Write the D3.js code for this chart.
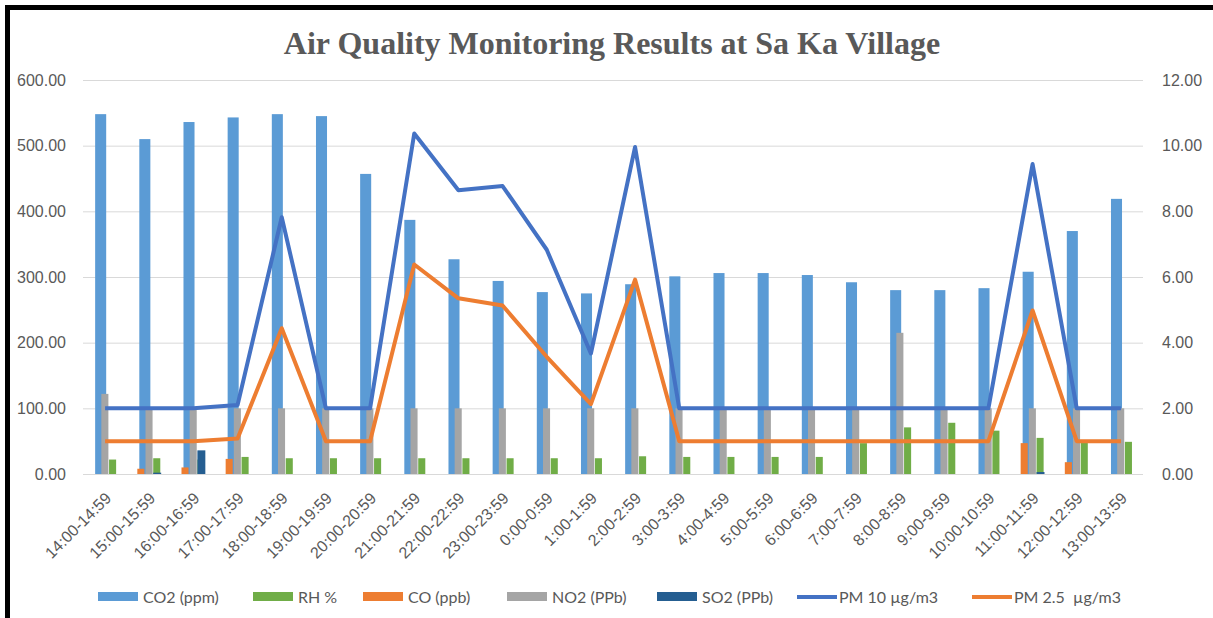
<!DOCTYPE html>
<html>
<head>
<meta charset="utf-8">
<script src="https://cdn.jsdelivr.net/npm/d3@7"></script>
<style>
  body { margin: 0; background: #fff; }
  svg { display: block; font-family: Lato, "Open Sans", sans-serif; }
</style>
</head>
<body>
<div class="chart"></div>
<script>
var width = 1213;
var height = 618;

// hourly slots
var categories = ["14:00-14:59", "15:00-15:59", "16:00-16:59", "17:00-17:59", "18:00-18:59",
	"19:00-19:59", "20:00-20:59", "21:00-21:59", "22:00-22:59", "23:00-23:59", "0:00-0:59",
	"1:00-1:59", "2:00-2:59", "3:00-3:59", "4:00-4:59", "5:00-5:59", "6:00-6:59", "7:00-7:59",
	"8:00-8:59", "9:00-9:59", "10:00-10:59", "11:00-11:59", "12:00-12:59", "13:00-13:59"];

// bar series (left axis)
var co2 = [548, 510, 536, 543, 548, 545, 457, 387, 327, 294, 277, 275, 289, 301, 306, 306, 303, 292, 280, 280, 283, 308, 370, 419];
var rh = [22, 24, 22, 26, 24, 24, 24, 24, 24, 24, 24, 24, 27, 26, 26, 26, 26, 47, 71, 78, 66, 55, 49, 49];
var co = [0, 8, 10, 23, 0, 0, 0, 0, 0, 0, 0, 0, 0, 0, 0, 0, 0, 0, 0, 0, 0, 47, 18, 0];
var no2 = [122, 100, 100, 100, 100, 100, 100, 100, 100, 100, 100, 100, 100, 100, 100, 100, 100, 100, 215, 100, 100, 100, 100, 100];
var so2 = [0, 2, 36, 0, 0, 0, 0, 0, 0, 0, 0, 0, 0, 0, 0, 0, 0, 0, 0, 0, 0, 3, 0, 0];

// line series (right axis)
var pm10 = [2, 2, 2, 2.1, 7.82, 2, 2, 10.37, 8.64, 8.77, 6.83, 3.67, 9.96, 2, 2, 2, 2, 2, 2, 2, 2, 9.44, 2, 2];
var pm25 = [1, 1, 1, 1.08, 4.44, 1, 1, 6.38, 5.35, 5.13, 3.57, 2.13, 5.92, 1, 1, 1, 1, 1, 1, 1, 1, 4.98, 1, 1];

var leftTicks = [0, 100, 200, 300, 400, 500, 600];
var rightTicks = [0, 2, 4, 6, 8, 10, 12];

var svg = d3.select(".chart")
	.append("svg")
	.attr("width", width)
	.attr("height", height);

var x = d3.scaleBand().domain(categories).range([83, 1143]);
var yL = d3.scaleLinear().domain([0, 600]).range([474, 80]);
var yR = d3.scaleLinear().domain([0, 12]).range([474, 80]);

// gridlines
svg.append("g")
	.attr("transform", "translate(83,0)")
	.call(d3.axisLeft(yL).tickValues(leftTicks).tickSize(-1060).tickFormat(""))
	.call(function(g) {
		g.select(".domain").remove();
		g.selectAll("line").attr("stroke", "#d9d9d9");
	});

// left labels
svg.append("g")
	.attr("transform", "translate(69,0)")
	.call(d3.axisLeft(yL).tickValues(leftTicks).tickSize(0).tickFormat(d3.format(".2f")))
	.call(function(g) {
		g.select(".domain").remove();
		g.selectAll("text").attr("fill", "#595959").style("font-size", "16px").attr("dx", 0);
	});

// right labels
svg.append("g")
	.attr("transform", "translate(1159,0)")
	.call(d3.axisRight(yR).tickValues(rightTicks).tickSize(0).tickFormat(d3.format(".2f")))
	.call(function(g) {
		g.select(".domain").remove();
		g.selectAll("text").attr("fill", "#595959").style("font-size", "16px").attr("dx", 0);
	});

// category labels
svg.append("g")
	.attr("transform", "translate(0,474)")
	.call(d3.axisBottom(x).tickSize(0))
	.call(function(g) {
		g.select(".domain").remove();
		g.selectAll("text")
			.attr("fill", "#595959")
			.style("font-size", "16px")
			.attr("text-anchor", "end")
			.attr("dy", 0)
			.attr("transform", "translate(5,23) rotate(-45)");
	});

// bars: offset / width as fraction of band
var bw = x.bandwidth();
var barSeries = [
	{ name: "CO2", values: co2, color: "#5b9bd5", off: -0.225, w: 0.25 },
	{ name: "NO2", values: no2, color: "#a5a5a5", off: -0.085, w: 0.16 },
	{ name: "CO", values: co, color: "#ed7d31", off: -0.27, w: 0.16 },
	{ name: "RH", values: rh, color: "#70ad47", off: 0.09, w: 0.16 },
	{ name: "SO2", values: so2, color: "#255e91", off: 0.09, w: 0.18 }
];

barSeries.forEach(function(s) {
	svg.append("g").selectAll("rect")
		.data(s.values)
		.enter()
		.append("rect")
		.attr("x", function(d, i) { return x(categories[i]) + bw / 2 + s.off * bw; })
		.attr("width", s.w * bw)
		.attr("y", function(d) { return yL(d); })
		.attr("height", function(d) { return yL(0) - yL(d); })
		.attr("fill", s.color);
});

// lines
var line = d3.line()
	.x(function(d, i) { return x(categories[i]) + bw / 2; })
	.y(function(d) { return yR(d); });

svg.append("path").datum(pm10)
	.attr("d", line).attr("fill", "none")
	.attr("stroke", "#4472c4").attr("stroke-width", 4).attr("stroke-linejoin", "round");
svg.append("path").datum(pm25)
	.attr("d", line).attr("fill", "none")
	.attr("stroke", "#ed7d31").attr("stroke-width", 4).attr("stroke-linejoin", "round");

// title
svg.append("text")
	.attr("x", 612).attr("y", 54)
	.attr("text-anchor", "middle")
	.style("font-family", "'Liberation Serif', 'Times New Roman', serif")
	.style("font-weight", "bold")
	.style("font-size", "32px")
	.attr("fill", "#595959")
	.text("Air Quality Monitoring Results at Sa Ka Village");

// legend
var legendItems = [
	{ label: "CO2 (ppm)", color: "#5b9bd5", type: "bar", x: 98 },
	{ label: "RH %", color: "#70ad47", type: "bar", x: 253 },
	{ label: "CO (ppb)", color: "#ed7d31", type: "bar", x: 363 },
	{ label: "NO2 (PPb)", color: "#a5a5a5", type: "bar", x: 507 },
	{ label: "SO2 (PPb)", color: "#255e91", type: "bar", x: 657 },
	{ label: "PM 10 \u00b5g/m3", color: "#4472c4", type: "line", x: 797 },
	{ label: "PM 2.5  \u00b5g/m3", color: "#ed7d31", type: "line", x: 972 }
];

var leg = svg.append("g").selectAll("g")
	.data(legendItems)
	.enter()
	.append("g")
	.attr("transform", function(d) { return "translate(" + d.x + ",597)"; });

leg.filter(function(d) { return d.type == "bar"; })
	.append("rect")
	.attr("x", 0).attr("y", -5).attr("width", 40).attr("height", 9)
	.attr("fill", function(d) { return d.color; });
leg.filter(function(d) { return d.type == "line"; })
	.append("line")
	.attr("x1", 0).attr("x2", 40).attr("y1", 0).attr("y2", 0)
	.attr("stroke-width", 4)
	.attr("stroke", function(d) { return d.color; });
leg.append("text")
	.attr("x", function(d) { return d.type == "bar" ? 45 : 42; })
	.attr("y", 6)
	.attr("fill", "#595959")
	.style("font-size", "16px")
	.style("white-space", "pre")
	.text(function(d) { return d.label; });

// outer frame
svg.append("rect")
	.attr("x", 7.5).attr("y", 7.5)
	.attr("width", 1300).attr("height", 700)
	.attr("fill", "none")
	.attr("stroke", "#000")
	.attr("stroke-width", 5);
</script>
</body>
</html>
